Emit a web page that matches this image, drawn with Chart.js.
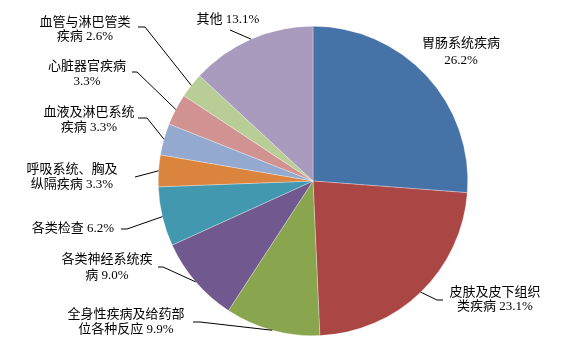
<!DOCTYPE html>
<html>
<head>
<meta charset="utf-8">
<script src="https://cdn.jsdelivr.net/npm/chart.js@4"></script>
<style>
  html, body { margin: 0; padding: 0; background: #fff; }
  #wrap { width: 565px; height: 360px; position: relative; }
</style>
</head>
<body>
<div id="wrap"><canvas id="pie"></canvas></div>
<script>
// ================== DATA ==================
const categories = [
  "胃肠系统疾病", "皮肤及皮下组织类疾病", "全身性疾病及给药部位各种反应",
  "各类神经系统疾病", "各类检查", "呼吸系统、胸及纵隔疾病",
  "血液及淋巴系统疾病", "心脏器官疾病", "血管与淋巴管类疾病", "其他"
];
const shares = [26.2, 23.1, 9.9, 9.0, 6.2, 3.3, 3.3, 3.3, 2.6, 13.1];
// how each label is broken into lines (value appended to last line)
const labelLines = [
  ["胃肠系统疾病", ""],
  ["皮肤及皮下组织", "类疾病 "],
  ["全身性疾病及给药部", "位各种反应 "],
  ["各类神经系统疾", "病 "],
  ["各类检查 "],
  ["呼吸系统、胸及", "纵隔疾病 "],
  ["血液及淋巴系统", "疾病 "],
  ["心脏器官疾病", ""],
  ["血管与淋巴管类", "疾病 "],
  ["其他 "]
];

// ================== STYLE / LAYOUT ==================
const colors = ["#4572A7", "#AA4643", "#89A54E", "#71588F", "#4198AF",
                "#DB843D", "#93A9CF", "#D19392", "#B9CD96", "#A99BBD"];
// text centre x, first line y, line height, leader start, short horizontal elbow
const labelBox = [
  { x: 461, y: 44,  lh: 17, lead: null },
  { x: 495, y: 293, lh: 14, lead: [443, 300], elbow: -6 },
  { x: 126, y: 315, lh: 15, lead: [193, 322], elbow: 7 },
  { x: 107, y: 260, lh: 16, lead: [158, 267], elbow: 5 },
  { x: 73,  y: 229, lh: 15, lead: [121, 229], elbow: 6 },
  { x: 72,  y: 170, lh: 15, lead: [135, 177], elbow: 0 },
  { x: 89,  y: 113, lh: 15, lead: [138, 118], elbow: 9 },
  { x: 87,  y: 67,  lh: 15, lead: [132, 72],  elbow: 5 },
  { x: 85,  y: 23,  lh: 14, lead: [138, 27],  elbow: 7 },
  { x: 228, y: 20,  lh: 15, lead: [230, 30],  elbow: 0 }
];
const FONT = '13px "Liberation Serif", "Noto Sans CJK SC"';

const labelPlugin = {
  id: "pieLabels",
  afterDatasetsDraw(chart) {
    const ctx = chart.ctx;
    const arcs = chart.getDatasetMeta(0).data;
    ctx.save();
    ctx.font = FONT;
    ctx.fillStyle = "#000";
    ctx.textAlign = "center";
    ctx.textBaseline = "middle";
    arcs.forEach((arc, i) => {
      const box = labelBox[i];
      const lines = labelLines[i].slice();
      lines[lines.length - 1] += shares[i].toFixed(1) + "%";
      lines.forEach((t, k) => ctx.fillText(t, box.x, box.y + k * box.lh));
      if (!box.lead) return;
      // leader goes to the outer edge of the slice, at its middle angle
      const mid = (arc.startAngle + arc.endAngle) / 2;
      const ex = arc.x + Math.cos(mid) * arc.outerRadius;
      const ey = arc.y + Math.sin(mid) * arc.outerRadius;
      ctx.beginPath();
      ctx.strokeStyle = "#000";
      ctx.lineWidth = 1;
      ctx.moveTo(box.lead[0], box.lead[1]);
      if (box.elbow) ctx.lineTo(box.lead[0] + box.elbow, box.lead[1]);
      ctx.lineTo(ex, ey);
      ctx.stroke();
    });
    ctx.restore();
  }
};

new Chart(document.getElementById("pie"), {
  type: "pie",
  data: {
    labels: categories,
    datasets: [{
      data: shares,
      backgroundColor: colors,
      borderColor: "rgba(255,255,255,0.6)",
      borderWidth: 0.5
    }]
  },
  options: {
    responsive: true,
    maintainAspectRatio: false,
    animation: false,
    layout: { padding: { left: 158, right: 97, top: 26, bottom: 24 } },
    plugins: { legend: { display: false }, tooltip: { enabled: false } }
  },
  plugins: [labelPlugin]
});
</script>
</body>
</html>
